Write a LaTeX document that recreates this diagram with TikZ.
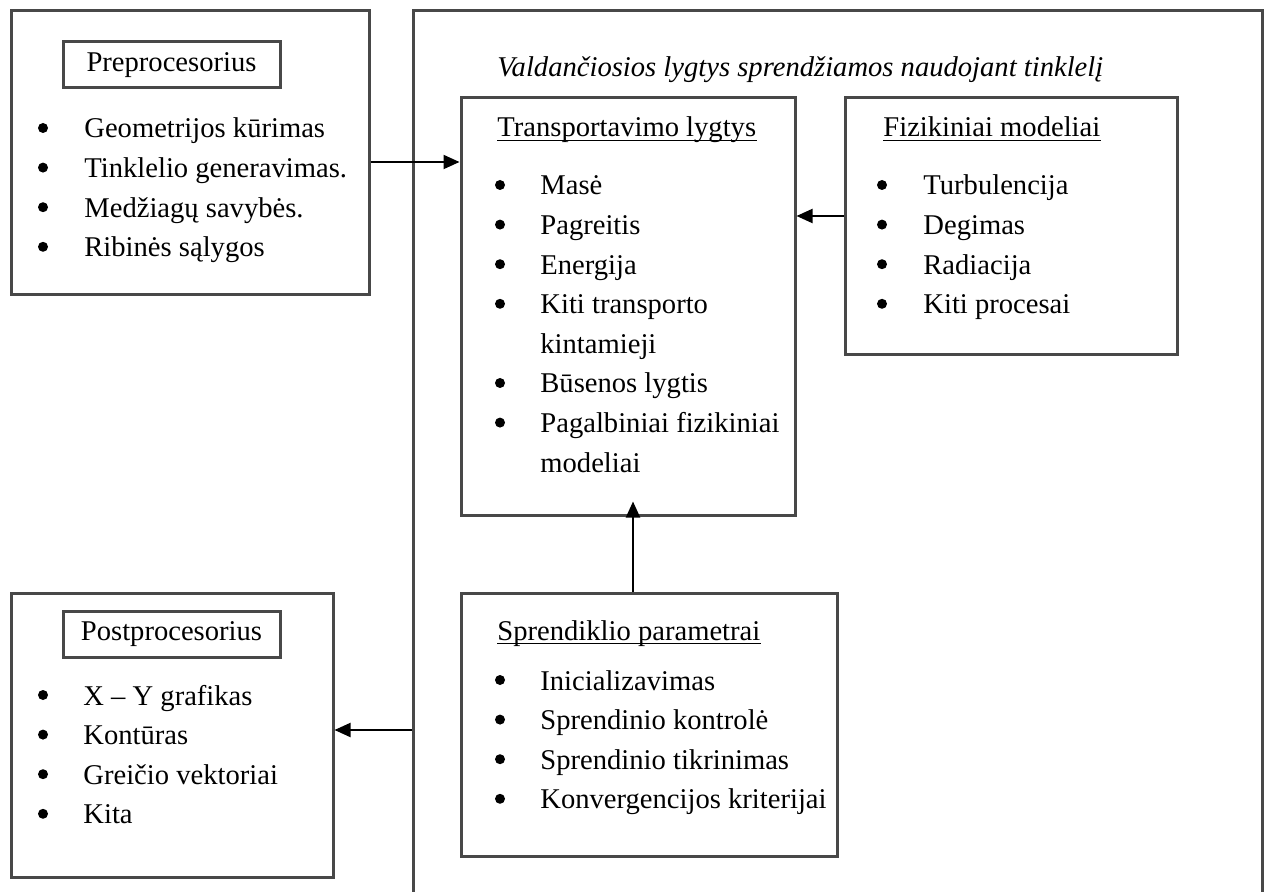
\documentclass[tikz,border=0pt]{standalone}
\usepackage{fontspec}
\setmainfont{Liberation Serif}
\usepackage{xcolor}
\usetikzlibrary{positioning, arrows.meta, calc}

\definecolor{boxgray}{RGB}{72,72,72}
\tikzset{
    frame/.style={draw=boxgray, line width=1.5pt, inner sep=0pt},
    conn/.style={draw=black, line width=1pt, -{Triangle[length=8pt,width=7pt]}},
    txt/.style={anchor=base west, inner sep=0pt, font=\fontsize{14.3}{19.8}\selectfont},
    uline/.style={draw=black, line width=0.6pt},
    dot/.style={fill=black},
}

\begin{document}
\begin{tikzpicture}[x=0.5pt, y=-0.5pt]
        \path[use as bounding box] (0,0) rectangle (1267,892);
        \clip (0,0) rectangle (1267,892);

        % left column
        \node[frame, minimum width=179pt, minimum height=142pt] (pre) at (190,153) {};
        \node[frame, minimum width=108.5pt, minimum height=23pt,
              font=\fontsize{14.3}{19.8}\selectfont] (pretitle) at (171.5,65) {Preprocesorius};
        \node[txt] (prelist) at (84,138) {
            \begin{tabular}[t]{@{}l@{}}
                Geometrijos kūrimas \\
                Tinklelio generavimas. \\
                Medžiagų savybės. \\
                Ribinės sąlygos
            \end{tabular}
        };
        \foreach \y in {128,167.6,207.2,246.8}
            \fill[dot] (43,\y) circle (2.5pt);

        \node[frame, minimum width=161pt, minimum height=142pt] (post) at (172,735) {};
        \node[frame, minimum width=108.5pt, minimum height=23pt,
              font=\fontsize{14.3}{19.8}\selectfont] (posttitle) at (171.5,634) {Postprocesorius};
        \node[txt] (postlist) at (83,705) {
            \begin{tabular}[t]{@{}l@{}}
                X -- Y grafikas \\
                Kontūras \\
                Greičio vektoriai \\
                Kita
            \end{tabular}
        };
        \foreach \y in {695,734.6,774.2,813.8}
            \fill[dot] (43,\y) circle (2.5pt);

        % solver
        \node[frame, minimum width=424.5pt, minimum height=447pt] (solver) at (837.5,458) {};
        \node[txt, font=\fontsize{14.3}{19.8}\selectfont\itshape] (caption) at (497,77)
            {Valdančiosios lygtys sprendžiamos naudojant tinklelį};

        \node[frame, minimum width=167pt, minimum height=208.5pt] (trans) at (628,306.5) {};
        \node[txt] (transhead) at (497,137) {Transportavimo lygtys};
        \draw[uline] ([yshift=-1.8pt]transhead.base west) -- ([yshift=-1.8pt]transhead.base east);
        \node[txt] (translist) at (540,195) {
            \begin{tabular}[t]{@{}l@{}}
                Masė \\
                Pagreitis \\
                Energija \\
                Kiti transporto \\
                kintamieji \\
                Būsenos lygtis \\
                Pagalbiniai fizikiniai \\
                modeliai
            \end{tabular}
        };
        \foreach \y in {185,224.6,264.2,303.8,383,422.6}
            \fill[dot] (500,\y) circle (2.5pt);

        \node[frame, minimum width=166pt, minimum height=128.5pt] (phys) at (1011,226.5) {};
        \node[txt] (physhead) at (883,137) {Fizikiniai modeliai};
        \draw[uline] ([yshift=-1.8pt]physhead.base west) -- ([yshift=-1.8pt]physhead.base east);
        \node[txt] (physlist) at (923,195) {
            \begin{tabular}[t]{@{}l@{}}
                Turbulencija \\
                Degimas \\
                Radiacija \\
                Kiti procesai
            \end{tabular}
        };
        \foreach \y in {185,224.6,264.2,303.8}
            \fill[dot] (882,\y) circle (2.5pt);

        \node[frame, minimum width=188pt, minimum height=131.5pt] (param) at (649,724.5) {};
        \node[txt] (paramhead) at (497,640) {Sprendiklio parametrai};
        \draw[uline] ([yshift=-1.8pt]paramhead.base west) -- ([yshift=-1.8pt]paramhead.base east);
        \node[txt] (paramlist) at (540,690) {
            \begin{tabular}[t]{@{}l@{}}
                Inicializavimas \\
                Sprendinio kontrolė \\
                Sprendinio tikrinimas \\
                Konvergencijos kriterijai
            \end{tabular}
        };
        \foreach \y in {680,719.6,759.2,798.8}
            \fill[dot] (500,\y) circle (2.5pt);

        % connectors
        \draw[conn] (pre.east |- 0,162) -- (trans.west |- 0,162);
        \draw[conn] (phys.west |- 0,216) -- (trans.east |- 0,216);
        \draw[conn] (param.north -| 633,0) -- ($(trans.south -| 633,0)+(0,-15)$);
        \draw[conn] (solver.west |- 0,730) -- (post.east |- 0,730);
    \end{tikzpicture}
\end{document}
